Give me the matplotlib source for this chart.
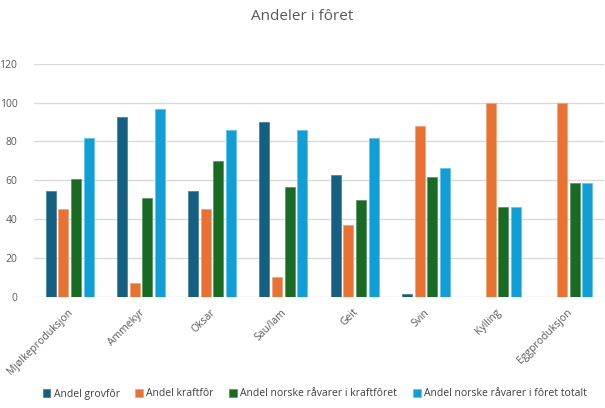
import matplotlib
matplotlib.use("Agg")
import matplotlib.pyplot as plt
import matplotlib.transforms as mtransforms
import numpy as np

categories = ["Mjølkeproduksjon", "Ammekyr", "Oksar", "Sau/lam", "Geit", "Svin", "Kylling", "Eggproduksjon"]
series_names = ["Andel grovfôr", "Andel kraftfôr", "Andel norske råvarer i kraftfôret", "Andel norske råvarer i fôret totalt"]
grovfor = [54.5, 92.5, 54.5, 90, 62.5, 1.5, 0, 0]
kraftfor = [45, 7, 45, 10, 37, 88, 100, 100]
norsk_kraft = [60.5, 51, 70, 56.5, 50, 61.5, 46, 58.5]
norsk_totalt = [81.5, 96.5, 86, 86, 81.5, 66.5, 46, 58.5]
y_ticks = [0, 20, 40, 60, 80, 100, 120]

colors = ["#156082", "#E97132", "#196B24", "#0F9ED5"]
edge_colors = ["#4a86a3", "#f4a27a", "#5a9a62", "#66c4ea"]

plt.rcParams['font.family'] = ['Open Sans', 'DejaVu Sans']
fig = plt.figure(figsize=(6.05, 4.08), dpi=100)
ax = fig.add_axes([34/605, 1 - 296.7/408, 570/605, (296.7-63.7)/408])

x = np.arange(len(categories))
pitch = 0.178
width = 0.14
data = [grovfor, kraftfor, norsk_kraft, norsk_totalt]
for i, (vals, c, ec, name) in enumerate(zip(data, colors, edge_colors, series_names)):
    ax.bar(x + (i - 1.5) * pitch, vals, width, color=c, edgecolor=ec, linewidth=0.6, label=name, zorder=3)

ax.set_xlim(-0.5, len(categories) - 0.5)
ax.set_ylim(0, 120)
ax.set_yticks(y_ticks)
ax.yaxis.grid(True, color="#d9d9d9", linewidth=1, zorder=0)
for s in ax.spines.values():
    s.set_visible(False)
ax.tick_params(axis='both', length=0, labelsize=7.5, labelcolor="#595959")
ax.tick_params(axis='y', pad=12)
ax.set_xticks(x)
ax.set_xticklabels(categories, rotation=45, ha='right', va='center', rotation_mode='anchor')
ax.tick_params(axis='x', pad=0)
offset = mtransforms.ScaledTranslation(2/100, -14/100, fig.dpi_scale_trans)
for lbl in ax.get_xticklabels():
    lbl.set_transform(lbl.get_transform() + offset)

fig.text(0.5, 1 - 16/408, "Andeler i fôret", ha='center', va='center', fontsize=11, color="#595959")

handles, labels = ax.get_legend_handles_labels()
fig.legend(handles, labels, loc='center', bbox_to_anchor=(0.52, 1 - 394/408), ncol=4, frameon=False,
           fontsize=7.5, labelcolor="#404040", handlelength=0.75, handleheight=0.75, handletextpad=0.3,
           columnspacing=1.5)

fig.savefig("out.png", dpi=100)
